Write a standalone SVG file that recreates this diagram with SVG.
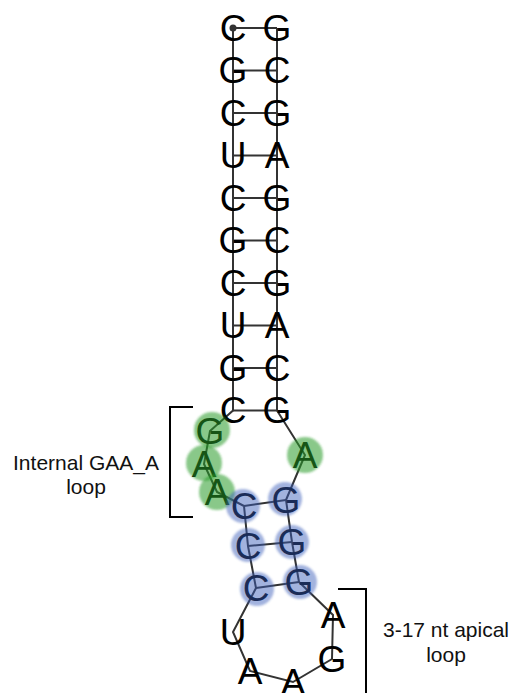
<svg xmlns="http://www.w3.org/2000/svg" width="510" height="693" viewBox="0 0 510 693">
<style>
.nt{font-family:"Liberation Sans",Arial,sans-serif;font-size:37px;text-anchor:middle;fill:#000}
.lbl{font-family:"Liberation Sans",Arial,sans-serif;font-size:21px;text-anchor:middle;fill:#111}
.ln{stroke:#333;stroke-width:2;fill:none}
.br{stroke:#000;stroke-width:2;fill:none}
.g{fill:#2a9a2a;fill-opacity:0.55;filter:url(#soft)}
.b{fill:#3a5cb8;fill-opacity:0.47;filter:url(#soft)}
</style>
<defs>
<filter id="soft" x="-30%" y="-30%" width="160%" height="160%"><feGaussianBlur stdDeviation="1.2"/></filter>
</defs>
<rect width="510" height="693" fill="#fff"/>
<g id="connectors">
<polyline class="ln" points="233,28 233,410.5 210,431 204,464 217,492 244,506 248,546 256,588 233,632 250,671 293,682 332,659 333,615 299,582 292,542 286,500 305,455 277,410.5 277,28"/>
<line class="ln" x1="233" y1="28" x2="277" y2="28"/>
<line class="ln" x1="233" y1="70.5" x2="277" y2="70.5"/>
<line class="ln" x1="233" y1="113" x2="277" y2="113"/>
<line class="ln" x1="233" y1="155.5" x2="277" y2="155.5"/>
<line class="ln" x1="233" y1="198" x2="277" y2="198"/>
<line class="ln" x1="233" y1="240.5" x2="277" y2="240.5"/>
<line class="ln" x1="233" y1="283" x2="277" y2="283"/>
<line class="ln" x1="233" y1="325.5" x2="277" y2="325.5"/>
<line class="ln" x1="233" y1="368" x2="277" y2="368"/>
<line class="ln" x1="233" y1="410.5" x2="277" y2="410.5"/>
<line class="ln" x1="244" y1="506" x2="286" y2="500"/>
<line class="ln" x1="248" y1="546" x2="292" y2="542"/>
<line class="ln" x1="256" y1="588" x2="299" y2="582"/>
<circle cx="233" cy="28" r="3.5" fill="#333"/>
</g>
<g id="stem">
<g id="n1"><text class="nt" x="233" y="40.5">C</text></g>
<g id="n2"><text class="nt" x="233" y="83">G</text></g>
<g id="n3"><text class="nt" x="233" y="125.5">C</text></g>
<g id="n4"><text class="nt" x="233" y="168">U</text></g>
<g id="n5"><text class="nt" x="233" y="210.5">C</text></g>
<g id="n6"><text class="nt" x="233" y="253">G</text></g>
<g id="n7"><text class="nt" x="233" y="295.5">C</text></g>
<g id="n8"><text class="nt" x="233" y="338">U</text></g>
<g id="n9"><text class="nt" x="233" y="380.5">G</text></g>
<g id="n10"><text class="nt" x="233" y="423">C</text></g>
<g id="n35"><text class="nt" x="277" y="40.5">G</text></g>
<g id="n34"><text class="nt" x="277" y="83">C</text></g>
<g id="n33"><text class="nt" x="277" y="125.5">G</text></g>
<g id="n32"><text class="nt" x="277" y="168">A</text></g>
<g id="n31"><text class="nt" x="277" y="210.5">G</text></g>
<g id="n30"><text class="nt" x="277" y="253">C</text></g>
<g id="n29"><text class="nt" x="277" y="295.5">G</text></g>
<g id="n28"><text class="nt" x="277" y="338">A</text></g>
<g id="n27"><text class="nt" x="277" y="380.5">C</text></g>
<g id="n26"><text class="nt" x="277" y="423">G</text></g>
</g>
<g id="loop">
<g id="n11"><text class="nt" x="210" y="443.5">G</text><circle class="g" cx="212" cy="430" r="18"/></g>
<g id="n12"><text class="nt" x="204" y="476.5">A</text><circle class="g" cx="204" cy="463" r="18"/></g>
<g id="n13"><text class="nt" x="217" y="504.5">A</text><circle class="g" cx="217" cy="492" r="18"/></g>
<g id="n14"><text class="nt" x="244" y="518.5">C</text><circle class="b" cx="243" cy="506" r="17"/></g>
<g id="n15"><text class="nt" x="248" y="558.5">C</text><circle class="b" cx="248" cy="545" r="17"/></g>
<g id="n16"><text class="nt" x="256" y="600.5">C</text><circle class="b" cx="257" cy="589" r="17"/></g>
<g id="n17"><text class="nt" x="233" y="644.5">U</text></g>
<g id="n18"><text class="nt" x="250" y="683.5">A</text></g>
<g id="n19"><text class="nt" x="293" y="694.5">A</text></g>
<g id="n20"><text class="nt" x="332" y="671.5">G</text></g>
<g id="n21"><text class="nt" x="333" y="627.5">A</text></g>
<g id="n22"><text class="nt" x="299" y="594.5">G</text><circle class="b" cx="300" cy="582" r="17"/></g>
<g id="n23"><text class="nt" x="292" y="554.5">G</text><circle class="b" cx="292" cy="542" r="17"/></g>
<g id="n24"><text class="nt" x="286" y="512.5">G</text><circle class="b" cx="285" cy="499" r="17"/></g>
<g id="n25"><text class="nt" x="305" y="467.5">A</text><circle class="g" cx="305" cy="455" r="18"/></g>
</g>
<g id="annotations">
<polyline class="br" points="193,407 170,407 170,517 193,517"/>
<polyline class="br" points="338,589 366,589 366,693"/>
<text class="lbl" x="86" y="470">Internal GAA_A</text>
<text class="lbl" x="86" y="494">loop</text>
<text class="lbl" x="446" y="637">3-17 nt apical</text>
<text class="lbl" x="446" y="662">loop</text>
</g>
</svg>
